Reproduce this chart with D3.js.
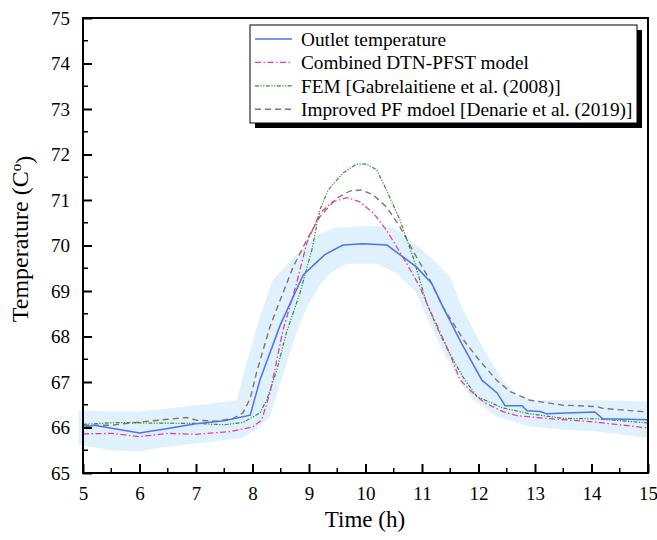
<!DOCTYPE html>
<html>
<head>
	<meta charset="utf-8">
	<title>Outlet temperature</title>
	<script src="https://cdn.jsdelivr.net/npm/d3@7"></script>
	<style>
		body { margin: 0; background: #fff; }
		svg text { font-family: "Liberation Serif", "DejaVu Serif", serif !important; fill: #000; font-weight: normal; }
	</style>
</head>
<body>
<div id="vis"></div>
<script type="text/javascript">
// values (time in h, temperature in C)
var outletTime = [5, 5.2, 6, 6.5, 7, 7.5, 7.96, 8.13, 8.49, 8.9, 9.28, 9.6, 9.96, 10.38, 10.9, 11.17, 11.37, 11.7, 12.06, 12.33, 12.47, 12.77, 12.86, 13.09, 13.2, 14.06, 14.2, 15];
var outletTemp = [66.0, 66.05, 65.88, 65.98, 66.08, 66.15, 66.27, 67.04, 68.25, 69.36, 69.8, 70.01, 70.04, 70.01, 69.53, 69.17, 68.65, 67.85, 67.04, 66.76, 66.48, 66.48, 66.37, 66.35, 66.3, 66.34, 66.19, 66.17];

var dtnTime = [5, 5.5, 6, 6.5, 7, 7.6, 8, 8.16, 8.31, 8.54, 8.78, 8.96, 9.19, 9.42, 9.67, 9.9, 10.14, 10.37, 10.66, 10.96, 11.08, 11.3, 11.5, 11.67, 11.85, 12.1, 12.43, 12.68, 13.2, 13.97, 14.2, 15];
var dtnTemp = [65.86, 65.87, 65.8, 65.87, 65.85, 65.91, 66.01, 66.16, 66.76, 68.14, 69.17, 70.05, 70.71, 70.96, 71.05, 70.96, 70.71, 70.34, 69.75, 69.1, 68.74, 68.15, 67.6, 67.05, 66.82, 66.55, 66.35, 66.26, 66.2, 66.13, 66.1, 65.99];

var femTime = [5, 5.6, 6, 7, 7.5, 7.83, 7.96, 8.13, 8.25, 8.43, 8.6, 8.84, 9.05, 9.19, 9.34, 9.6, 9.84, 10.02, 10.2, 10.37, 10.61, 10.84, 11.08, 11.3, 11.5, 11.73, 11.97, 12.43, 12.91, 13.5, 14.1, 15];
var femTemp = [66.07, 66.11, 66.1, 66.09, 66.06, 66.11, 66.2, 66.32, 66.6, 67.26, 68.08, 68.96, 69.9, 70.78, 71.22, 71.59, 71.79, 71.79, 71.66, 71.22, 70.56, 69.75, 68.74, 68.1, 67.6, 67.1, 66.68, 66.43, 66.3, 66.2, 66.19, 66.1];

var pfTime = [5, 5.5, 6, 6.5, 6.84, 7.01, 7.36, 7.66, 7.83, 7.96, 8.07, 8.31, 8.49, 8.72, 8.96, 9.19, 9.49, 9.73, 9.93, 10.14, 10.37, 10.61, 10.9, 11.14, 11.37, 11.75, 12.0, 12.32, 12.56, 12.91, 13.5, 14.1, 14.2, 15];
var pfTemp = [66.05, 66.05, 66.12, 66.18, 66.22, 66.16, 66.14, 66.2, 66.32, 66.64, 67.2, 68.22, 68.8, 69.53, 70.12, 70.63, 71.04, 71.2, 71.22, 71.11, 70.85, 70.41, 69.75, 69.24, 68.65, 67.9, 67.5, 67.04, 66.79, 66.6, 66.49, 66.46, 66.42, 66.34];

// shaded band round the outlet temperature
var bandUpTime = [4.92, 5.42, 6, 6.5, 7, 7.72, 7.83, 8.13, 8.36, 8.66, 9.1, 9.45, 10.08, 10.43, 10.66, 11.14, 11.5, 11.73, 12.1, 12.43, 12.67, 13.03, 14.09, 15];
var bandUpTemp = [66.38, 66.35, 66.35, 66.42, 66.49, 66.6, 67.12, 68.44, 69.24, 69.65, 70.19, 70.39, 70.43, 70.41, 70.27, 69.75, 69.31, 68.58, 67.7, 67.04, 66.71, 66.6, 66.6, 66.57];
var bandLowTime = [4.92, 5.5, 6, 6.3, 7, 7.8, 8.07, 8.31, 8.49, 8.78, 8.96, 9.19, 9.37, 9.67, 10.2, 10.55, 10.9, 11.02, 11.4, 11.85, 12.32, 12.91, 13.5, 14.1, 15];
var bandLowTemp = [65.62, 65.5, 65.47, 65.55, 65.65, 65.77, 65.95, 66.24, 66.98, 68.08, 68.65, 69.12, 69.39, 69.6, 69.6, 69.39, 68.96, 68.58, 67.6, 66.68, 66.24, 66.02, 65.95, 65.91, 65.77];

var xTicks = [5, 6, 7, 8, 9, 10, 11, 12, 13, 14, 15];
var yTicks = [65, 66, 67, 68, 69, 70, 71, 72, 73, 74, 75];
var legendNames = ["Outlet temperature", "Combined DTN-PFST model", "FEM [Gabrelaitiene et al. (2008)]", "Improved PF mdoel [Denarie et al. (2019)]"];

var W = 657, H = 540;
var margin = {top: 18, right: 9, bottom: 67, left: 83};
var FONT = "'Liberation Serif', 'DejaVu Serif', serif";

var svg = d3.select("#vis").append("svg").attr("width", W).attr("height", H)
	.attr("font-family", FONT);

var x = d3.scaleLinear().domain([5, 15]).range([margin.left, W - margin.right]);
var y = d3.scaleLinear().domain([65, 75]).range([H - margin.bottom, margin.top]);

function pts(ts, vs) {
	return ts.map(function(t, i){ return [t, vs[i]]; });
}
var line = d3.line().x(function(d){ return x(d[0]); }).y(function(d){ return y(d[1]); });

// band
var bandPts = pts(bandUpTime, bandUpTemp).concat(pts(bandLowTime, bandLowTemp).reverse());
svg.append("path").attr("d", line(bandPts) + "Z").attr("fill", "#dff1fd").attr("stroke", "none");

var series = [
	{name: legendNames[0], t: outletTime, v: outletTemp, color: "#4f72f2", dash: null, w: 1.5},
	{name: legendNames[1], t: dtnTime, v: dtnTemp, color: "#f2399d", dash: "6,2.5,1.5,2.5", w: 1.3},
	{name: legendNames[2], t: femTime, v: femTemp, color: "#2f8f2f", dash: "4,1.5,1.2,1.5,1.2,1.5", w: 1.2},
	{name: legendNames[3], t: pfTime, v: pfTemp, color: "#8c7070", dash: "6,4", w: 1.4}
];
// draw blue first, then the models on top
[series[3], series[2], series[1], series[0]].forEach(function(s){
	svg.append("path")
		.attr("d", line(pts(s.t, s.v)))
		.attr("fill", "none")
		.attr("stroke", s.color)
		.attr("stroke-width", s.w)
		.attr("stroke-dasharray", s.dash);
});

// frame
svg.append("rect")
	.attr("x", margin.left).attr("y", margin.top)
	.attr("width", W - margin.right - margin.left)
	.attr("height", H - margin.bottom - margin.top)
	.attr("fill", "none").attr("stroke", "#000").attr("stroke-width", 2);

// axes, ticks pointing inward
var xAxis = d3.axisBottom(x).tickValues(xTicks).tickSize(-9).tickPadding(14).tickFormat(d3.format("d"));
var gx = svg.append("g").attr("transform", "translate(0," + (H - margin.bottom) + ")").call(xAxis);
var yAxis = d3.axisLeft(y).tickValues(yTicks).tickSize(-9).tickPadding(13).tickFormat(d3.format("d"));
var gy = svg.append("g").attr("transform", "translate(" + margin.left + ",0)").call(yAxis);
[gx, gy].forEach(function(g){
	g.attr("font-family", FONT).attr("font-size", 19);
	g.select(".domain").remove();
	g.selectAll(".tick line").attr("stroke", "#000").attr("stroke-width", 2);
	g.selectAll(".tick text").attr("fill", "#000");
});
gx.selectAll(".tick text").attr("dy", "0.71em");

// minor ticks at the halves
var xMinor = d3.range(5.5, 15, 1);
var yMinor = d3.range(65.5, 75, 1);
svg.append("g").selectAll("line").data(xMinor).enter().append("line")
	.attr("x1", function(d){ return x(d); }).attr("x2", function(d){ return x(d); })
	.attr("y1", H - margin.bottom).attr("y2", H - margin.bottom - 5)
	.attr("stroke", "#000").attr("stroke-width", 1.5);
svg.append("g").selectAll("line").data(yMinor).enter().append("line")
	.attr("y1", function(d){ return y(d); }).attr("y2", function(d){ return y(d); })
	.attr("x1", margin.left).attr("x2", margin.left + 5)
	.attr("stroke", "#000").attr("stroke-width", 1.5);

// axis titles
svg.append("text")
	.attr("x", 365).attr("y", 527)
	.attr("text-anchor", "middle").attr("font-size", 23)
	.text("Time (h)");
var yl = svg.append("text")
	.attr("transform", "translate(28,239) rotate(-90)")
	.attr("text-anchor", "middle").attr("font-size", 24);
yl.append("tspan").text("Temperature (C");
yl.append("tspan").attr("dy", "-0.45em").attr("font-size", 15).text("o");
yl.append("tspan").attr("dy", "0.45em").text(")");

// legend with shadow
var lg = {x: 250, y: 25, w: 387, h: 98};
svg.append("rect").attr("x", lg.x + 5).attr("y", lg.y + 5).attr("width", lg.w).attr("height", lg.h).attr("fill", "#000");
svg.append("rect").attr("x", lg.x).attr("y", lg.y).attr("width", lg.w).attr("height", lg.h)
	.attr("fill", "#fff").attr("stroke", "#000").attr("stroke-width", 1);
series.forEach(function(s, i){
	var ry = lg.y + 14 + i * 23.4;
	svg.append("line").attr("x1", lg.x + 5).attr("x2", lg.x + 42).attr("y1", ry).attr("y2", ry)
		.attr("stroke", s.color).attr("stroke-width", s.w).attr("stroke-dasharray", s.dash);
	svg.append("text").attr("x", lg.x + 51).attr("y", ry).attr("dy", "0.35em")
		.attr("font-size", 19.3).text(s.name);
});
</script>
</body>
</html>
